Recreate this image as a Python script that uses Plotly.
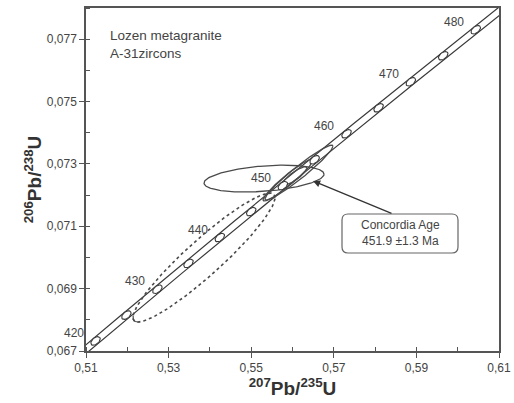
import numpy as np
import plotly.graph_objects as go

# ---- data ----
L238 = 1.55125e-10
L235 = 9.8485e-10
marker_ages = [420, 425, 430, 435, 440, 445, 450, 455, 460, 465, 470, 475, 480]
label_ages = [420, 430, 440, 450, 460, 470, 480]
band_halfwidth = 0.00014

# error ellipses: centre x, centre y, x half-extent, y half-extent, correlation
ell_cx = [0.55310, 0.53857, 0.56157, 0.55891, 0.56058]
ell_cy = [0.072529, 0.069997, 0.072721, 0.072481, 0.072618]
ell_a = [0.01453, 0.01719, 0.00823, 0.00605, 0.00290]
ell_b = [0.00043, 0.002067, 0.00088, 0.00067, 0.00029]
ell_rho = [0.33, 0.93, 0.96, 0.95, 0.85]
ell_dash = ["solid", "dot", "solid", "solid", "solid"]

x_ticks = [0.51, 0.53, 0.55, 0.57, 0.59, 0.61]
y_ticks = [0.067, 0.069, 0.071, 0.073, 0.075, 0.077]
x_range = [0.51, 0.61]
y_range = [0.067, 0.078]

conc_age_text = "Concordia Age<br>451.9 ±1.3 Ma"
sample_text = "Lozen metagranite<br>A-31zircons"

# ---- layout geometry ----
W, H = 514, 403
ML, MR, MT, MB = 86, 15, 8, 52
PW, PH = W - ML - MR, H - MT - MB
sx = PW / (x_range[1] - x_range[0])
sy = PH / (y_range[1] - y_range[0])

LINE = "#3a3a3a"
TXT = "#444444"


def conc(t_ma):
    t = np.asarray(t_ma) * 1e6
    return np.exp(L235 * t) - 1, np.exp(L238 * t) - 1


def ellipse(cx, cy, a, b, rho, t0=0.0, t1=2 * np.pi, n=200):
    t = np.linspace(t0, t1, n)
    x = cx + a * np.cos(t)
    y = cy + b * (rho * np.cos(t) + np.sqrt(1 - rho ** 2) * np.sin(t))
    return x, y


fig = go.Figure()

# concordia band
ages = np.linspace(410, 490, 400)
cx_, cy_ = conc(ages)
for off in (-band_halfwidth, band_halfwidth):
    fig.add_trace(go.Scatter(x=cx_, y=cy_ + off, mode="lines",
                             line=dict(color=LINE, width=1.2),
                             hoverinfo="skip", showlegend=False))

# data ellipses
for i in range(len(ell_cx)):
    ex, ey = ellipse(ell_cx[i], ell_cy[i], ell_a[i], ell_b[i], ell_rho[i])
    fig.add_trace(go.Scatter(x=ex, y=ey, mode="lines",
                             line=dict(color="#4a4a4a", width=1.3 if ell_dash[i] == "solid" else 1.6,
                                       dash=ell_dash[i]),
                             hoverinfo="skip", showlegend=False))
# solid hook at the lower tip of the dotted ellipse
hx, hy = ellipse(ell_cx[1], ell_cy[1], ell_a[1], ell_b[1], ell_rho[1],
                 np.pi - 0.06, np.pi + 0.45, 40)
fig.add_trace(go.Scatter(x=hx, y=hy, mode="lines", line=dict(color="#4a4a4a", width=1.2),
                         hoverinfo="skip", showlegend=False))

# age markers (small ellipses along concordia)
mx, my = [], []
for age in marker_ages:
    x0, y0 = conc(age)
    t = age * 1e6
    dx = L235 * np.exp(L235 * t) * sx
    dy = L238 * np.exp(L238 * t) * sy
    n = np.hypot(dx, dy)
    ux, uy = dx / n, dy / n
    vx, vy = -uy, ux
    th = np.linspace(0, 2 * np.pi, 30)
    px = 5.5 * np.cos(th) * ux + 3.2 * np.sin(th) * vx
    py = 5.5 * np.cos(th) * uy + 3.2 * np.sin(th) * vy
    mx += list(x0 + px / sx) + [None]
    my += list(y0 + py / sy) + [None]
fig.add_trace(go.Scatter(x=mx, y=my, mode="lines", fill="toself", fillcolor="white",
                         line=dict(color=LINE, width=1.1), hoverinfo="skip", showlegend=False))

annotations = []
for age in label_ages:
    x0, y0 = conc(age)
    annotations.append(dict(x=float(x0), y=float(y0), text=str(age), showarrow=False,
                            xshift=-22, yshift=8, font=dict(size=12, color=TXT)))

# arrow to the concordia age ellipse
tip_px = (313, 181)
tail_px = (393, 214)
annotations.append(dict(x=x_range[0] + (tip_px[0] - ML) / sx,
                        y=y_range[0] + (H - MB - tip_px[1]) / sy,
                        ax=tail_px[0] - tip_px[0], ay=tail_px[1] - tip_px[1],
                        axref="pixel", ayref="pixel", text="", showarrow=True,
                        arrowhead=2, arrowsize=1.1, arrowwidth=1.3, arrowcolor="#333333",
                        standoff=0))


def paper(px, py):
    return (px - ML) / PW, (H - MB - py) / PH


# box text
bx, by = paper(400, 233)
annotations.append(dict(x=bx, y=by, xref="paper", yref="paper", text=conc_age_text,
                        xanchor="center", yanchor="middle",
                        showarrow=False, font=dict(size=12, color=TXT), align="center"))

tx, ty = paper(108, 45)
annotations.append(dict(x=tx, y=ty, xref="paper", yref="paper", text=sample_text,
                        showarrow=False, xanchor="left", yanchor="middle", align="left",
                        font=dict(size=13.5, color=TXT)))

# rounded box
x0p, y0p = 342, 214
x1p, y1p = 458, 253
r = 6


def P(px, py):
    a, b = paper(px, py)
    return f"{a:.5f},{b:.5f}"


path = (f"M {P(x0p + r, y0p)} L {P(x1p - r, y0p)} Q {P(x1p, y0p)} {P(x1p, y0p + r)} "
        f"L {P(x1p, y1p - r)} Q {P(x1p, y1p)} {P(x1p - r, y1p)} "
        f"L {P(x0p + r, y1p)} Q {P(x0p, y1p)} {P(x0p, y1p - r)} "
        f"L {P(x0p, y0p + r)} Q {P(x0p, y0p)} {P(x0p + r, y0p)} Z")
shapes = [dict(type="path", xref="paper", yref="paper", path=path,
               line=dict(color="#666666", width=1.2), fillcolor="white", layer="above")]

axis_common = dict(showgrid=False, zeroline=False, showline=True, mirror=True,
                   linecolor="#555555", linewidth=1.5, ticks="outside", ticklen=5,
                   tickwidth=1.3, tickcolor="#555555", automargin=False,
                   tickfont=dict(size=12, color=TXT, family="Liberation Sans, Arial"))

fig.update_layout(
    width=W, height=H, margin=dict(l=ML, r=MR, t=MT, b=MB),
    plot_bgcolor="white", paper_bgcolor="white",
    separators=",.",
    font=dict(family="Liberation Sans, Arial", color=TXT),
    xaxis=dict(range=x_range, tickvals=x_ticks, tickformat=".2f",
               minor=dict(ticks="inside", ticklen=4, dtick=0.01, tickcolor="#555555"),
               title=dict(text="<b><sup>207</sup>Pb/<sup>235</sup>U</b>",
                          font=dict(size=19, color="#333333"), standoff=4),
               **axis_common),
    yaxis=dict(range=y_range, tickvals=y_ticks, tickformat=".3f",
               minor=dict(ticks="inside", ticklen=4, dtick=0.001, tickcolor="#555555"),
               title=dict(text="<b><sup>206</sup>Pb/<sup>238</sup>U</b>",
                          font=dict(size=19, color="#333333"), standoff=0),
               **axis_common),
    annotations=annotations, shapes=shapes,
)

fig.write_html("out.html", config={"displayModeBar": False},
               post_script="document.body.style.margin='0';document.body.style.overflow='hidden';")
